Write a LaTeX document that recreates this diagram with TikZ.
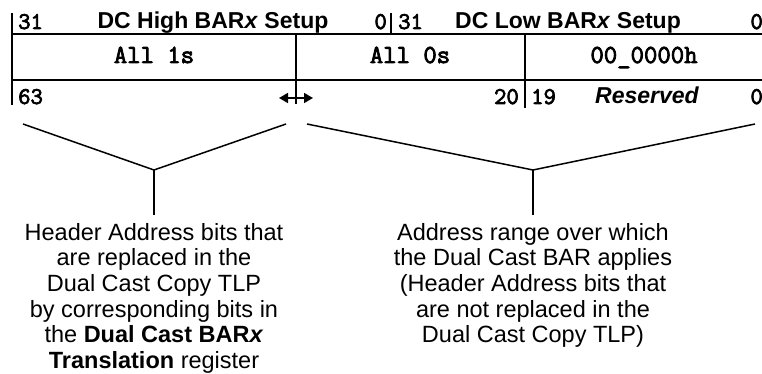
\documentclass[tikz,border=0pt]{standalone}
\usepackage{fontspec}
\setmainfont{Liberation Sans}
\setmonofont{Latin Modern Mono}[AutoFakeBold=3]
\usetikzlibrary{arrows.meta, positioning}

\begin{document}
\begin{tikzpicture}[x=1pt, y=-1pt,
    title/.style={font=\fontsize{23}{26}\selectfont\bfseries, anchor=base, inner sep=0pt},
    bitnum/.style={font=\fontsize{24}{26}\selectfont\ttfamily\bfseries, inner sep=0pt},
    field/.style={font=\fontsize{26}{28}\selectfont\ttfamily\bfseries, anchor=base, inner sep=0pt},
    note/.style={font=\fontsize{23.5}{25.6}\selectfont, align=center, anchor=north, inner sep=0pt},
    gridline/.style={line width=1.8pt},
    forkline/.style={line width=1.5pt}]
    \useasboundingbox (0,0) rectangle (762,374);
    % register rows
    \draw[gridline] (12,13) -- (12,105);
    \draw[gridline] (391,13) -- (391,34);
    \draw[gridline] (12,34) -- (762,34);
    \draw[gridline] (12,80) -- (762,80);
    \draw[gridline] (296,34) -- (296,104);
    \draw[gridline] (525,34) -- (525,108);
    \node[bitnum, anchor=base west] (hi31) at (18,29) {31};
    \node[title] (hititle) at (213,29) {DC High BAR\textit{x} Setup};
    \node[bitnum, anchor=base east] (hi0) at (387,29) {0};
    \node[bitnum, anchor=base west] (lo31) at (398,29) {31};
    \node[title] (lotitle) at (568,29) {DC Low BAR\textit{x} Setup};
    \node[bitnum, anchor=base east] (lo0) at (763,29) {0};
    \node[field] (all1) at (154,63) {All 1s};
    \node[field] (all0) at (410,63) {All 0s};
    \node[field] (lowzero) at (644,63) {00\_0000h};
    \node[bitnum, anchor=base west] (b63) at (18,104) {63};
    \node[bitnum, anchor=base east] (b20) at (519,104) {20};
    \node[bitnum, anchor=base west] (b19) at (531,104) {19};
    \node[title, font=\fontsize{23}{26}\selectfont\bfseries\itshape] (resv) at (647,104) {Reserved};
    \node[bitnum, anchor=base east] (b0) at (763,104) {0};
    \coordinate (splitL) at (279,98);
    \coordinate (splitR) at (313,98);
    \draw[{Triangle[length=9pt,width=10pt]}-{Triangle[length=9pt,width=10pt]}, line width=1.6pt] (splitL) -- (splitR);
    % forks to notes
    \coordinate (hiA) at (23,124);
    \coordinate (hiB) at (286,124);
    \coordinate (hiV) at (154,170);
    \coordinate (hiS) at (154,215);
    \coordinate (loA) at (307,124);
    \coordinate (loB) at (755,124);
    \coordinate (loV) at (533,170);
    \coordinate (loS) at (533,215);
    \draw[forkline] (hiA) -- (hiV) -- (hiB);
    \draw[forkline] (hiV) -- (hiS);
    \draw[forkline] (loA) -- (loV) -- (loB);
    \draw[forkline] (loV) -- (loS);
    \node[note] (hinote) at (154,223) {Header Address bits that\\are replaced in the\\Dual Cast Copy TLP\\by corresponding bits in\\the \textbf{Dual Cast BAR\textit{x}}\\\textbf{Translation} register};
    \node[note] (lonote) at (533,223) {Address range over which\\the Dual Cast BAR applies\\(Header Address bits that\\are not replaced in the\\Dual Cast Copy TLP)};
\end{tikzpicture}
\end{document}
